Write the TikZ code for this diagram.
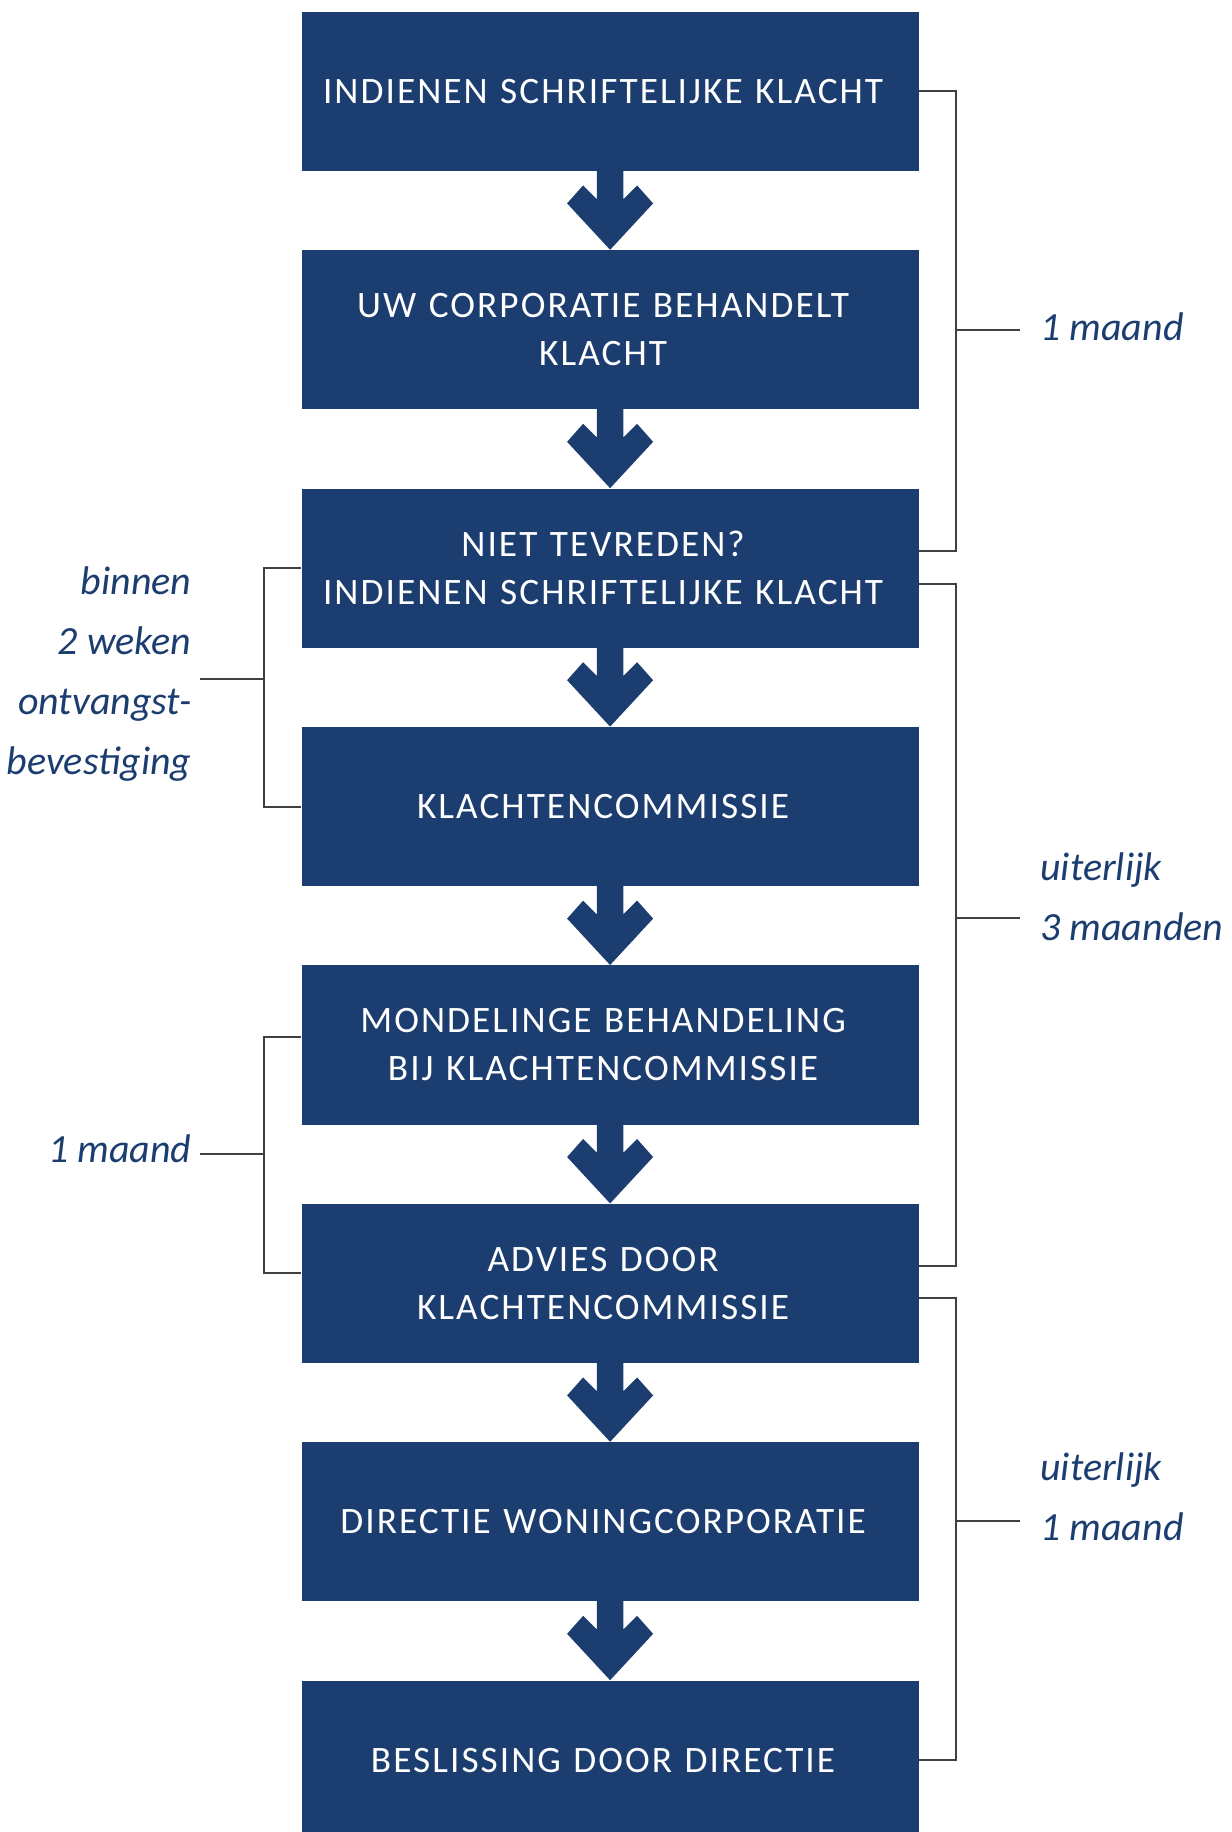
\documentclass[tikz,border=0pt]{standalone}
\usepackage{fontspec}
\usepackage{xcolor}
\usepackage{tikz}
\definecolor{klachtblue}{RGB}{28,61,112}
\newfontfamily\boxfont[LetterSpace=5.5]{Carlito}
\newfontfamily\notefont{Carlito}

\begin{document}
\begin{tikzpicture}[x=0.5pt, y=-0.5pt,
  stepbox/.style={fill=klachtblue, text=white, minimum width=308.5pt, minimum height=79.6pt, inner sep=0pt, text width=290pt, align=center, execute at begin node={\leftskip=0pt plus 1fil\rightskip=7pt plus 1fil\parfillskip=0pt}, font=\boxfont\fontsize{18.65}{24}\selectfont},
  brk/.style={draw=black!75, line width=1pt},
  note/.style={text=klachtblue, inner ysep=0pt, align=left, font=\notefont\itshape\fontsize{20}{30}\selectfont}]
  \def\flowarrow#1#2{\fill[klachtblue, shift={(#1.south)}] (-13.3,-1) -- (-13.3,27.7) -- (-27,14) -- (-43,32) -- (#2.north) -- (43,32) -- (27,14) -- (13.3,27.7) -- (13.3,-1) -- cycle;}
  \useasboundingbox (0,0) rectangle (1232,1832);
  \clip (0,0) rectangle (1232,1832);
  % steps
  \node[stepbox] (indien) at (610.1,91.4) {INDIENEN SCHRIFTELIJKE KLACHT};
  \node[stepbox] (behandelt) at (610.1,329.8) {UW CORPORATIE BEHANDELT\\KLACHT};
  \node[stepbox] (niet) at (610.1,568.2) {NIET TEVREDEN?\\INDIENEN SCHRIFTELIJKE KLACHT};
  \node[stepbox] (commissie) at (610.1,806.6) {KLACHTENCOMMISSIE};
  \node[stepbox] (mondeling) at (610.1,1045.0) {MONDELINGE BEHANDELING\\BIJ KLACHTENCOMMISSIE};
  \node[stepbox] (advies) at (610.1,1283.4) {ADVIES DOOR\\KLACHTENCOMMISSIE};
  \node[stepbox] (directie) at (610.1,1521.8) {DIRECTIE WONINGCORPORATIE};
  \node[stepbox] (beslissing) at (610.1,1760.2) {BESLISSING DOOR DIRECTIE};
  \flowarrow{indien}{behandelt} \flowarrow{behandelt}{niet} \flowarrow{niet}{commissie} \flowarrow{commissie}{mondeling}
  \flowarrow{mondeling}{advies} \flowarrow{advies}{directie} \flowarrow{directie}{beslissing}
  % termijnen rechts
  \draw[brk] (indien.east) -- ++(37,0) |- ([yshift=8.8pt]niet.east);
  \draw[brk] ([yshift=-7.9pt]niet.east) -- ++(37,0) |- ([yshift=8.9pt]advies.east);
  \draw[brk] ([yshift=-7.45pt]advies.east) -- ++(37,0) |- (beslissing.east);
  \coordinate (kA) at (956,329.8);
  \coordinate (kB) at (956,917.6);
  \coordinate (kC) at (956,1521);
  \node[note, anchor=west, inner xsep=10pt] (maandA) at (1020,327) {1 maand};
  \node[note, anchor=west, inner xsep=10pt] (drieMaand) at (1020,896.4) {uiterlijk\\3 maanden};
  \node[note, anchor=west, inner xsep=10pt] (maandC) at (1020,1496.8) {uiterlijk\\1 maand};
  \draw[brk] (kA) -- (kA -| maandA.west); \draw[brk] (kB) -- (kB -| drieMaand.west); \draw[brk] (kC) -- (kC -| maandC.west);
  % termijnen links
  \draw[brk] (niet.west) -- ++(-37,0) |- (commissie.west);
  \draw[brk] ([yshift=4.15pt]mondeling.west) -- ++(-37,0) |- ([yshift=5pt]advies.west);
  \coordinate (kD) at (264.3,679.3);
  \coordinate (kE) at (264.3,1154.3);
  \node[note, anchor=east, inner xsep=4.15pt, align=right] (binnen) at (200,673.7) {binnen\\2 weken\\ontvangst-\\bevestiging};
  \node[note, anchor=east, inner xsep=4.15pt] (maandB) at (200,1149) {1 maand};
  \draw[brk] (kD) -- (kD -| binnen.east); \draw[brk] (kE) -- (kE -| maandB.east);
\end{tikzpicture}
\end{document}
